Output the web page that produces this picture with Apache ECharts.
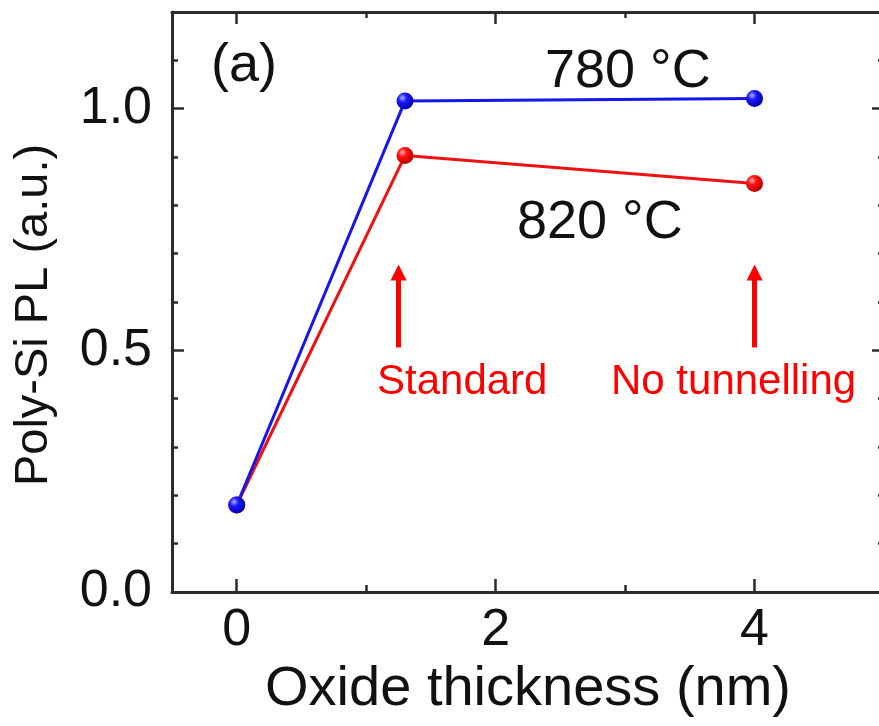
<!DOCTYPE html>
<html><head><meta charset="utf-8">
<script src="https://cdn.jsdelivr.net/npm/echarts@6/dist/echarts.min.js"></script>
<style>html,body{margin:0;padding:0;background:#fff}#c{width:879px;height:726px}</style>
</head><body><div id="c"></div>
<script>
// ---- data ----
const oxideThickness = [0, 1.3, 4];          // nm
const pl780 = [0.18, 1.016, 1.021];          // 780 °C
const pl820 = [0.18, 0.903, 0.845];          // 820 °C
const xMajorTicks = [0, 2, 4];
const xMinorTicks = [1, 3];
const yMajorTicks = [0, 0.5, 1.0];
const yMinorTicks = [0.1, 0.2, 0.3, 0.4, 0.6, 0.7, 0.8, 0.9, 1.1];
const arrowX = [1.25, 4.0];                  // "Standard", "No tunnelling"
const arrowY = [0.506, 0.661];               // arrow base, arrow head centre

const FONT = 'Liberation Sans';
const AX = '#2b2b2b';
const X_MIN = -0.5, X_MAX = 5, Y_MIN = 0, Y_MAX = 1.2;

function xAx(pos, ticks, len, showLine, labels) {
  return {
    type: 'value', position: pos, min: X_MIN, max: X_MAX,
    axisLine: { show: showLine, onZero: false, lineStyle: { color: AX, width: 3 } },
    axisTick: { show: true, inside: true, length: len, customValues: ticks, lineStyle: { color: AX, width: 2.5 } },
    axisLabel: labels ? { show: true, customValues: ticks, fontSize: 52, fontFamily: FONT, color: '#111', margin: 13, lineHeight: 52 } : { show: false },
    splitLine: { show: false }
  };
}
function yAx(pos, ticks, len, showLine, labels) {
  return {
    type: 'value', position: pos, min: Y_MIN, max: Y_MAX,
    axisLine: { show: showLine, onZero: false, lineStyle: { color: AX, width: 3 } },
    axisTick: { show: true, inside: true, length: len, customValues: ticks, lineStyle: { color: AX, width: 2.5 } },
    axisLabel: labels ? { show: true, customValues: ticks, fontSize: 52, fontFamily: FONT, color: '#111', margin: 20,
      formatter: v => v.toFixed(1) } : { show: false },
    splitLine: { show: false }
  };
}

function sphere(light, mid, dark) {
  return new echarts.graphic.RadialGradient(0.35, 0.32, 0.75, [
    { offset: 0, color: light }, { offset: 0.35, color: mid }, { offset: 1, color: dark }
  ]);
}

const xs = [
  xAx('bottom', xMajorTicks, 13, true, true),
  xAx('bottom', xMinorTicks, 7, false, false),
  xAx('top', xMajorTicks, 12, true, false),
  xAx('top', xMinorTicks, 6, false, false)
];
xs[0].name = 'Oxide thickness (nm)';
xs[0].nameLocation = 'middle';
xs[0].nameGap = 65;
xs[0].nameTextStyle = { fontSize: 56, fontFamily: FONT, color: '#111', lineHeight: 56 };

const ys = [
  yAx('left', yMajorTicks, 12, true, true),
  yAx('left', yMinorTicks, 6, false, false),
  yAx('right', yMajorTicks, 12, true, false),
  yAx('right', yMinorTicks, 6, false, false)
];
ys[0].name = 'Poly-Si PL (a.u.)';
ys[0].nameLocation = 'middle';
ys[0].nameGap = 114;
ys[0].nameTextStyle = { fontSize: 47, fontFamily: FONT, color: '#111', lineHeight: 47, padding: [0, 26, 0, 0] };

const chart = echarts.init(document.getElementById('c'), null, { renderer: 'canvas' });
chart.setOption({
  animation: false,
  backgroundColor: '#fff',
  grid: { left: 172, top: 12, width: 712, height: 580, outerBoundsMode: 'none', containLabel: false },
  xAxis: xs,
  yAxis: ys,
  series: [
    {
      name: '820 °C', type: 'line', xAxisIndex: 0, yAxisIndex: 0,
      data: oxideThickness.map((x, i) => [x, pl820[i]]),
      lineStyle: { color: '#ee1111', width: 3 },
      symbol: 'circle', symbolSize: 17,
      itemStyle: { color: sphere('#ffb0b0', '#ff1010', '#b00000') },
      z: 2,
      markLine: {
        silent: true, animation: false,
        symbol: ['none', 'triangle'], symbolSize: [16, 16],
        lineStyle: { color: '#ff0000', width: 5, type: 'solid' },
        label: { show: false },
        data: arrowX.map(ax => [{ coord: [ax, arrowY[0]] }, { coord: [ax, arrowY[1]] }])
      }
    },
    {
      name: '780 °C', type: 'line', xAxisIndex: 0, yAxisIndex: 0,
      data: oxideThickness.map((x, i) => [x, pl780[i]]),
      lineStyle: { color: '#1515ee', width: 3 },
      symbol: 'circle', symbolSize: 17,
      itemStyle: { color: sphere('#b0b0ff', '#1818ff', '#0000a0') },
      z: 3
    }
  ],
  graphic: [
    { type: 'text', left: 211, top: 'auto', x: 0, y: 0,
      style: { text: '(a)', x: 211, y: 66, font: `54px "${FONT}"`, fill: '#111', verticalAlign: 'middle', align: 'left' } },
    { type: 'text', style: { text: '780 °C', x: 545, y: 72, font: `54px "${FONT}"`, fill: '#111', verticalAlign: 'middle', align: 'left' } },
    { type: 'text', style: { text: '820 °C', x: 517, y: 223, font: `54px "${FONT}"`, fill: '#111', verticalAlign: 'middle', align: 'left' } },
    { type: 'text', style: { text: 'Standard', x: 377, y: 382, font: `42px "${FONT}"`, fill: '#ff0000', verticalAlign: 'middle', align: 'left' } },
    { type: 'text', style: { text: 'No tunnelling', x: 611, y: 382, font: `42px "${FONT}"`, fill: '#ff0000', verticalAlign: 'middle', align: 'left' } }
  ]
});
</script>
</body></html>
